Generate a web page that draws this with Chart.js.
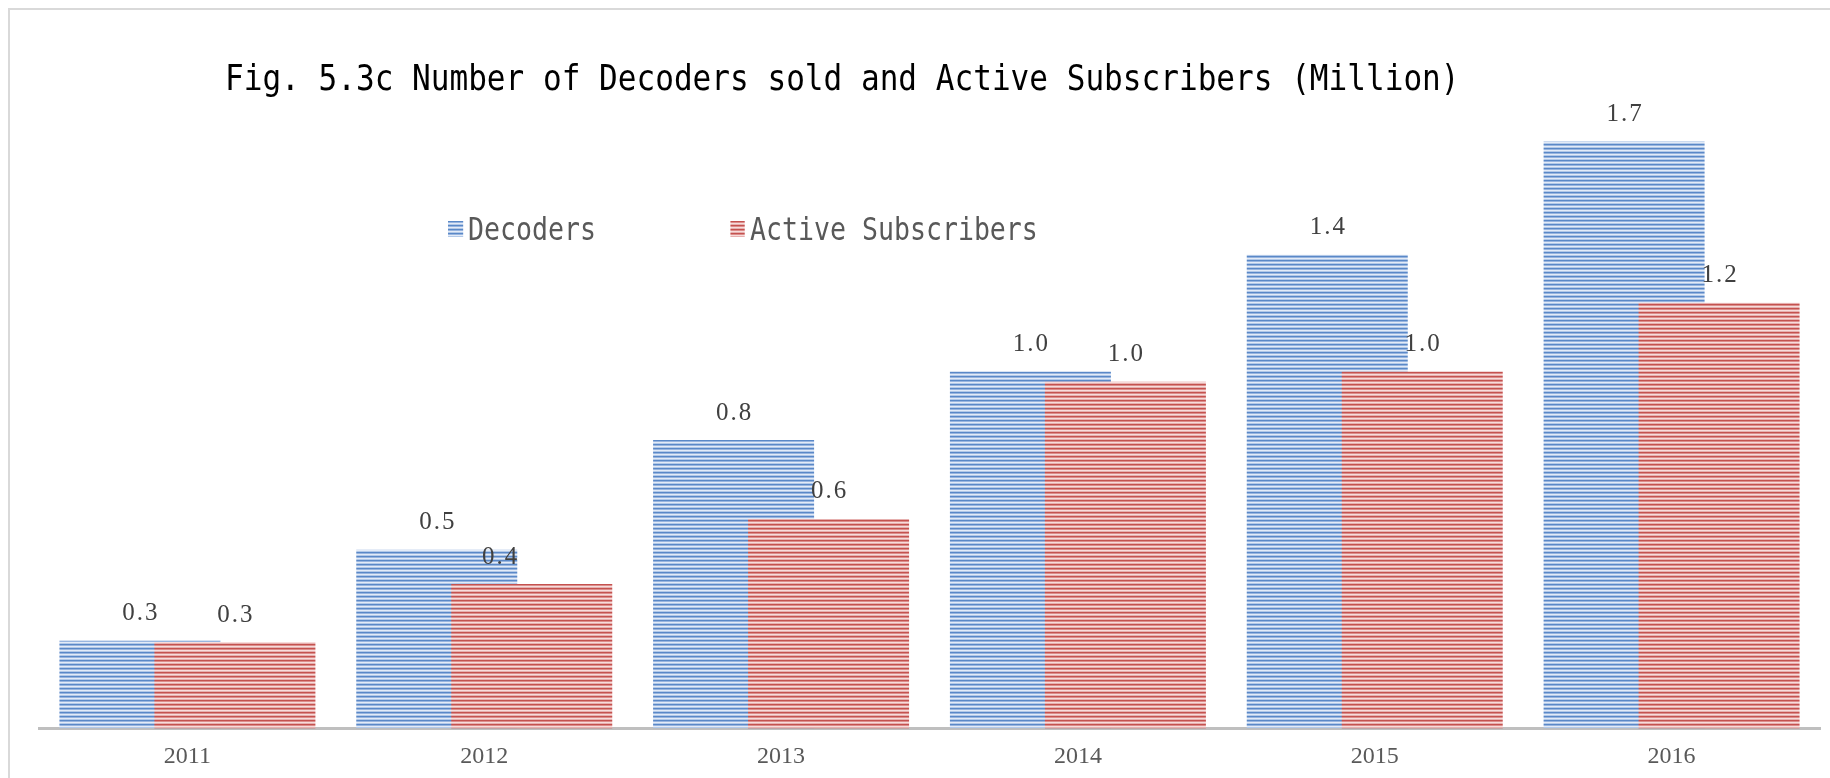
<!DOCTYPE html>
<html>
<head>
<meta charset="utf-8">
<script src="https://cdn.jsdelivr.net/npm/chart.js@4.4.1/dist/chart.umd.min.js"></script>
<style>
  html, body { margin: 0; padding: 0; background: #fff; overflow: hidden; }
  #wrap { position: relative; width: 1830px; height: 778px; overflow: hidden; }
  #frame { position: absolute; left: 8px; top: 8px; width: 1900px; height: 900px;
           border-left: 2px solid #d9d9d9; border-top: 2px solid #d9d9d9; }
  #title { position: absolute; left: 225px; top: 60px; white-space: nowrap;
           font-family: 'DejaVu Sans Mono', monospace; font-size: 36px; line-height: 36px;
           color: #000; transform: scaleX(0.863); transform-origin: 0 0; }
  #legend { position: absolute; left: 448px; top: 213px; display: flex; align-items: center;
            white-space: nowrap; font-family: 'DejaVu Sans Mono', monospace; font-size: 31.5px;
            line-height: 32px; color: #595959; transform: scaleX(0.843); transform-origin: 0 0; }
  .item { display: flex; align-items: center; margin-right: 159px; }
  .box { width: 17.8px; height: 16px; margin-right: 6px; }
  canvas { position: absolute; left: 0; top: 0; }
</style>
</head>
<body>
<div id="wrap">
  <div id="frame"></div>
  <canvas id="chart" width="1830" height="778"></canvas>
  <div id="title">Fig. 5.3c Number of Decoders sold and Active Subscribers (Million)</div>
  <div id="legend"></div>
</div>
<script>
const years = ['2011', '2012', '2013', '2014', '2015', '2016'];
const decoders = [0.255, 0.52, 0.84, 1.04, 1.38, 1.71];
const subscribers = [0.251, 0.42, 0.61, 1.01, 1.04, 1.24];
const seriesNames = ['Decoders', 'Active Subscribers'];

// stripe rows, top to bottom, repeated down the bar
const blueStripes = ['#5a88c7', '#98b5df', '#e3ebf7', '#b3c9e8'];
const redStripes = ['#c4524f', '#dc8d8b', '#f7dcdb', '#e6b0af'];

function stripes(colors) {
    const c = document.createElement('canvas');
    c.width = 1;
    c.height = colors.length;
    const g = c.getContext('2d');
    colors.forEach((col, i) => {
        g.fillStyle = col;
        g.fillRect(0, i, 1, 1);
    });
    return g.createPattern(c, 'repeat');
}

function cssStripes(colors) {
    const stops = colors.map((col, i) => col + ' ' + i + 'px ' + (i + 1) + 'px').join(', ');
    return 'repeating-linear-gradient(to bottom, ' + stops + ')';
}

// Excel draws the second series over the first where they overlap
const redOnTop = {
    id: 'redOnTop',
    beforeDatasetDraw(chart, args) {
        if (args.index === 1 && !this.drawing) return false;
    },
    afterDatasetsDraw(chart) {
        this.drawing = true;
        chart.getDatasetMeta(1).controller.draw();
        this.drawing = false;
    }
};

const barLabels = {
    id: 'barLabels',
    afterDatasetsDraw(chart) {
        const ctx = chart.ctx;
        ctx.save();
        ctx.font = "25px 'Liberation Serif'";
        ctx.letterSpacing = '2px';
        ctx.fillStyle = '#404040';
        ctx.textAlign = 'center';
        ctx.textBaseline = 'middle';
        chart.data.datasets.forEach((ds, i) => {
            chart.getDatasetMeta(i).data.forEach((bar, j) => {
                let dx = 1;
                // the 2012 subscriber label was dragged left in the original
                if (i === 1 && j === 1) dx = -31;
                ctx.fillText(ds.data[j].toFixed(1), bar.x + dx, bar.y - 27);
            });
        });
        ctx.restore();
    }
};

const ctx = document.getElementById('chart').getContext('2d');

const chart = new Chart(ctx, {
    type: 'bar',
    data: {
        labels: years,
        datasets: [
            {
                label: seriesNames[0],
                data: decoders,
                backgroundColor: stripes(blueStripes),
                borderWidth: 0,
                categoryPercentage: 0.64,
                barPercentage: 1.695
            },
            {
                label: seriesNames[1],
                data: subscribers,
                backgroundColor: stripes(redStripes),
                borderWidth: 0,
                categoryPercentage: 0.64,
                barPercentage: 1.695
            }
        ]
    },
    options: {
        responsive: false,
        animation: false,
        layout: {
            padding: { left: 39, right: 10, top: 42, bottom: -7 }
        },
        plugins: {
            legend: { display: false },
            title: { display: false },
            tooltip: { enabled: false }
        },
        scales: {
            x: {
                grid: { display: false, drawTicks: false },
                border: { color: '#bfbfbf', width: 3 },
                ticks: {
                    color: '#595959',
                    padding: 14,
                    font: { family: 'Liberation Serif', size: 24 }
                }
            },
            y: {
                display: false,
                min: 0,
                max: 2
            }
        }
    },
    plugins: [redOnTop, barLabels]
});

// html legend built from the datasets
const legendEl = document.getElementById('legend');
[blueStripes, redStripes].forEach((cols, i) => {
    const item = document.createElement('div');
    item.className = 'item';
    const box = document.createElement('span');
    box.className = 'box';
    box.style.background = cssStripes(cols);
    const txt = document.createElement('span');
    txt.textContent = chart.data.datasets[i].label;
    item.appendChild(box);
    item.appendChild(txt);
    legendEl.appendChild(item);
});
</script>
</body>
</html>
